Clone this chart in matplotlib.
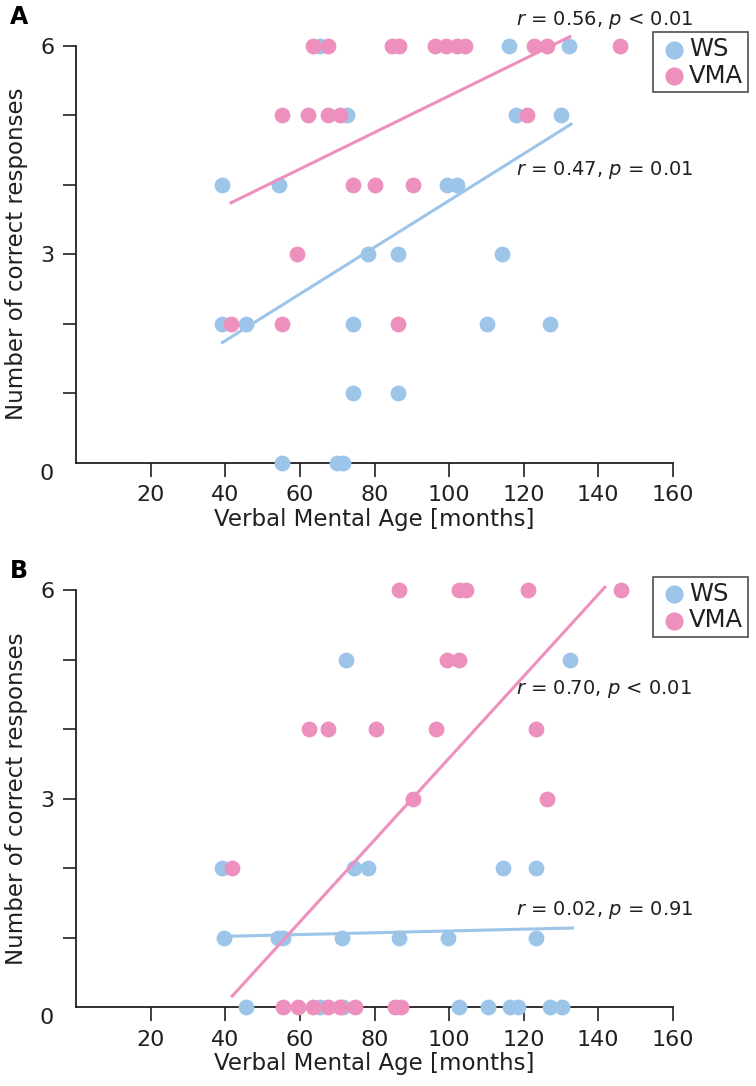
import numpy as np
import matplotlib.pyplot as plt

# panel A: WS group (x = verbal mental age, y = correct responses)
ws_a_x = [65.4, 116.2, 132.2, 72.5, 117.9, 129.9, 39.2, 54.4, 99.4, 102.2,
          78.2, 86.4, 114.1, 39.0, 45.4, 74.3, 110.1, 127.1, 74.3, 86.4,
          55.3, 70.0, 71.6]
ws_a_y = [6, 6, 6, 5, 5, 5, 4, 4, 4, 4,
          3, 3, 3, 2, 2, 2, 2, 2, 1, 1,
          0, 0, 0]
# panel A: VMA group
vma_a_x = [63.6, 67.6, 84.6, 86.6, 96.2, 99.2, 102.2, 104.3, 122.9, 126.2, 145.9,
           55.1, 62.2, 67.4, 70.7, 120.8, 74.3, 80.1, 90.2, 59.1,
           41.4, 55.3, 86.4]
vma_a_y = [6, 6, 6, 6, 6, 6, 6, 6, 6, 6, 6,
           5, 5, 5, 5, 5, 4, 4, 4, 3,
           2, 2, 2]

# panel B
ws_b_x = [72.3, 132.4, 39.2, 74.6, 78.3, 114.4, 123.3,
          39.7, 54.0, 55.5, 71.3, 86.6, 99.6, 123.3,
          45.5, 65.4, 71.6, 102.7, 110.4, 116.3, 118.4, 127.1, 130.2]
ws_b_y = [5, 5, 2, 2, 2, 2, 2,
          1, 1, 1, 1, 1, 1, 1,
          0, 0, 0, 0, 0, 0, 0, 0, 0]
vma_b_x = [86.6, 102.7, 104.5, 121.2, 146.0, 99.5, 102.7,
           62.4, 67.6, 80.4, 96.5, 123.3, 90.4, 126.4, 41.7,
           55.5, 59.5, 63.4, 67.6, 70.7, 74.7, 85.5, 87.0]
vma_b_y = [6, 6, 6, 6, 6, 5, 5,
           4, 4, 4, 4, 4, 3, 3, 2,
           0, 0, 0, 0, 0, 0, 0, 0]

# fitted lines as drawn: (x start, y start, x end, y end)
fit_ws_a = [39.2, 1.73, 132.7, 4.87]
fit_vma_a = [41.5, 3.74, 132.4, 6.13]
fit_ws_b = [39.7, 1.02, 133.1, 1.14]
fit_vma_b = [41.8, 0.16, 141.8, 6.04]

stats_a = ['$r$ = 0.56, $p$ < 0.01', '$r$ = 0.47, $p$ = 0.01']
stats_b = ['$r$ = 0.70, $p$ < 0.01', '$r$ = 0.02, $p$ = 0.91']

blue = '#9dc5ea'
pink = '#ee90be'
dark = '#231f20'

W, H = 756, 1086
fig = plt.figure(figsize=(W / 100, H / 100), dpi=100)


def panel(rect, wx, wy, vx, vy, fw, fv, stats, stat_y, letter, letter_y, leg_top):
    ax = fig.add_axes(rect)
    ax.scatter(wx, wy, s=130, color=blue, clip_on=False, zorder=3, linewidths=0, label='WS')
    ax.scatter(vx, vy, s=130, color=pink, clip_on=False, zorder=4, linewidths=0, label='VMA')
    ax.plot([fw[0], fw[2]], [fw[1], fw[3]], color=blue, lw=2.2, zorder=5, clip_on=False)
    ax.plot([fv[0], fv[2]], [fv[1], fv[3]], color=pink, lw=2.2, zorder=5, clip_on=False)
    ax.set_xlim(0, 160)
    ax.set_ylim(0, 6)
    for s in ['top', 'right']:
        ax.spines[s].set_visible(False)
    for s in ['left', 'bottom']:
        ax.spines[s].set_color(dark)
        ax.spines[s].set_linewidth(1.3)
    ax.set_xticks(range(20, 161, 20))
    ax.set_yticks(range(1, 7))
    ax.set_yticklabels(['', '', '3', '', '', '6'])
    ax.tick_params(axis='x', length=10, width=1.2, color=dark, labelsize=16, pad=6, labelcolor=dark)
    ax.tick_params(axis='y', length=9.5, width=1.2, color=dark, labelsize=16, pad=6, labelcolor=dark)
    ax.annotate('0', xy=(0, 0), xytext=(-16.5, -8), textcoords='offset points',
                ha='right', va='center', fontsize=16, color=dark, annotation_clip=False)
    ax.set_xlabel('Verbal Mental Age [months]', fontsize=16.5, color=dark, labelpad=2)
    ax.set_ylabel('Number of correct responses', fontsize=16.5, color=dark, labelpad=9)
    for t, yy in zip(stats, stat_y):
        fig.text(516 / W, 1 - yy / H, t, fontsize=14, color=dark, ha='left', va='center')
    fig.text(10 / W, 1 - letter_y / H, letter, fontsize=17, fontweight='bold', ha='left', va='center')
    leg = ax.legend(loc='upper right', bbox_to_anchor=(748 / W, 1 - leg_top / H),
                    bbox_transform=fig.transFigure, fontsize=17.5, frameon=True,
                    fancybox=False, edgecolor=dark, handletextpad=-0.1, borderpad=0.2,
                    labelspacing=0.1, handlelength=1.4, borderaxespad=0, markerscale=1.15)
    leg.get_frame().set_linewidth(1.2)
    for txt in leg.get_texts():
        txt.set_color(dark)
    return ax


panel([76.4 / W, 1 - 462.7 / H, 596.3 / W, 417 / H],
      ws_a_x, ws_a_y, vma_a_x, vma_a_y, fit_ws_a, fit_vma_a,
      stats_a, [20, 170], 'A', 17.5, 32.3)
panel([76.4 / W, 1 - 1007.3 / H, 596.3 / W, 417.3 / H],
      ws_b_x, ws_b_y, vma_b_x, vma_b_y, fit_ws_b, fit_vma_b,
      stats_b, [689, 910], 'B', 571, 576.7)

fig.savefig('out.png', dpi=100)
